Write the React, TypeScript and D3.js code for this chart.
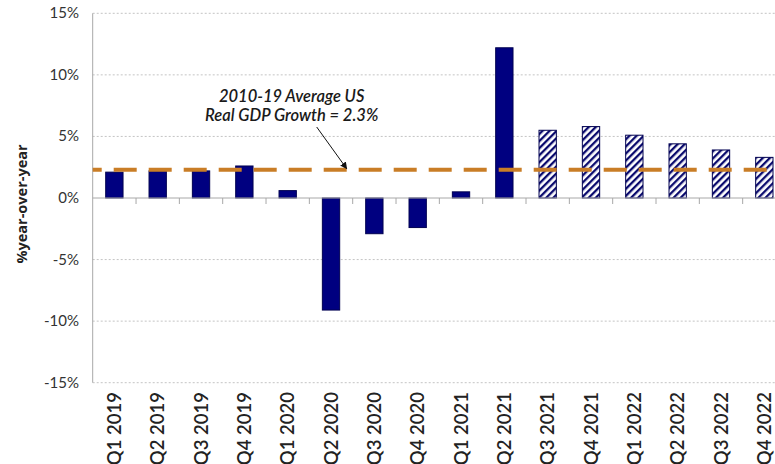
import React, { useRef, useEffect } from "react";
import * as d3 from "d3";

const quarters = [
  "Q1 2019", "Q2 2019", "Q3 2019", "Q4 2019",
  "Q1 2020", "Q2 2020", "Q3 2020", "Q4 2020",
  "Q1 2021", "Q2 2021", "Q3 2021", "Q4 2021",
  "Q1 2022", "Q2 2022", "Q3 2022", "Q4 2022",
];
const growth = [2.1, 2.2, 2.2, 2.6, 0.6, -9.1, -2.9, -2.4, 0.5, 12.2, 5.5, 5.8, 5.1, 4.4, 3.9, 3.3];
// true = forecast (hatched)
const forecast = [false, false, false, false, false, false, false, false, false, false, true, true, true, true, true, true];
const yTicks = [-15, -10, -5, 0, 5, 10, 15];
const avgGrowth = 2.3;
const annotationLines = ["2010-19 Average US", "Real GDP Growth = 2.3%"];

const App: React.FC = () => {
  const ref = useRef<SVGSVGElement | null>(null);
  const width = 775;
  const height = 464;

  useEffect(() => {
    const svg = d3.select(ref.current);
    svg.selectAll("*").remove();

    const left = 92.7;
    const right = 786;
    const top = 13.3;
    const bottom = 382.7;

    const x = d3
      .scaleBand<string>()
      .domain(quarters)
      .range([left, right])
      .paddingInner(0.6)
      .paddingOuter(0.3);
    const y = d3.scaleLinear().domain([-15, 15]).range([bottom, top]);

    // hatch pattern for forecast bars
    const defs = svg.append("defs");
    const pat = defs
      .append("pattern")
      .attr("id", "hatch")
      .attr("patternUnits", "userSpaceOnUse")
      .attr("width", 5)
      .attr("height", 5)
      .attr("patternTransform", "rotate(45)");
    pat.append("rect").attr("width", 5).attr("height", 5).attr("fill", "#fff");
    pat
      .append("rect")
      .attr("x", 0)
      .attr("width", 2.3)
      .attr("height", 5)
      .attr("fill", "#0a0a6e");

    defs
      .append("marker")
      .attr("id", "arrow")
      .attr("viewBox", "0 0 10 10")
      .attr("refX", 9)
      .attr("refY", 5)
      .attr("markerWidth", 7)
      .attr("markerHeight", 7)
      .attr("markerUnits", "userSpaceOnUse")
      .attr("orient", "auto")
      .append("path")
      .attr("d", "M0,0 L10,5 L0,10 z")
      .attr("fill", "#111");

    // gridlines
    svg
      .append("g")
      .selectAll("line")
      .data(yTicks.filter((t) => t !== 0))
      .enter()
      .append("line")
      .attr("x1", left)
      .attr("x2", right)
      .attr("y1", (d) => y(d))
      .attr("y2", (d) => y(d))
      .attr("stroke", "#c4c4c4")
      .attr("stroke-width", 1)
      .attr("stroke-dasharray", "2 2");

    // y tick labels
    svg
      .append("g")
      .selectAll("text")
      .data(yTicks)
      .enter()
      .append("text")
      .attr("x", 79)
      .attr("y", (d) => y(d) + 5)
      .attr("text-anchor", "end")
      .attr("fill", "#333")
      .style("font-family", "Lato, 'Open Sans', sans-serif")
      .style("font-size", "15px")
      .text((d) => `${d}%`);

    // y axis title
    svg
      .append("text")
      .attr("transform", `translate(27,204) rotate(-90)`)
      .attr("text-anchor", "middle")
      .attr("fill", "#222")
      .style("font-family", "'Open Sans', Lato, sans-serif")
      .style("font-weight", "bold")
      .style("font-size", "14.5px")
      .text("%year-over-year");

    // bars
    svg
      .append("g")
      .selectAll("rect")
      .data(quarters)
      .enter()
      .append("rect")
      .attr("x", (d) => x(d) as number)
      .attr("width", x.bandwidth())
      .attr("y", (d, i) => y(Math.max(0, growth[i])))
      .attr("height", (d, i) => Math.abs(y(growth[i]) - y(0)))
      .attr("fill", (d, i) => (forecast[i] ? "url(#hatch)" : "#000080"))
      .attr("stroke", "#000050")
      .attr("stroke-width", 1);

    // left axis + zero line
    svg
      .append("line")
      .attr("x1", left)
      .attr("x2", left)
      .attr("y1", top)
      .attr("y2", bottom)
      .attr("stroke", "#a8a8a8");
    svg
      .append("line")
      .attr("x1", left)
      .attr("x2", right)
      .attr("y1", y(0))
      .attr("y2", y(0))
      .attr("stroke", "#a8a8a8");

    // category ticks at zero line
    const step = x.step();
    svg
      .append("g")
      .selectAll("line")
      .data(quarters.slice(1))
      .enter()
      .append("line")
      .attr("x1", (d) => (x(d) as number) + x.bandwidth() / 2 - step / 2)
      .attr("x2", (d) => (x(d) as number) + x.bandwidth() / 2 - step / 2)
      .attr("y1", y(0))
      .attr("y2", y(0) + 6)
      .attr("stroke", "#a8a8a8");

    // average line
    svg
      .append("line")
      .attr("x1", left)
      .attr("x2", right)
      .attr("y1", y(avgGrowth))
      .attr("y2", y(avgGrowth))
      .attr("stroke", "#c97d26")
      .attr("stroke-width", 4)
      .attr("stroke-dasharray", "23 12")
      .attr("stroke-dashoffset", 14);

    // x labels
    svg
      .append("g")
      .selectAll("text")
      .data(quarters)
      .enter()
      .append("text")
      .attr(
        "transform",
        (d) => `translate(${(x(d) as number) + x.bandwidth() / 2 + 6.5},392) rotate(-90)`,
      )
      .attr("text-anchor", "end")
      .attr("fill", "#222")
      .style("font-family", "Lato, 'Open Sans', sans-serif")
      .style("font-weight", "600")
      .style("font-size", "18.5px")
      .text((d) => d);

    // annotation
    const annX = (x("Q1 2020") as number) + x.bandwidth() / 2 + 4;
    svg
      .append("g")
      .selectAll("text")
      .data(annotationLines)
      .enter()
      .append("text")
      .attr("x", annX)
      .attr("y", (d, i) => 102 + i * 18.5)
      .attr("text-anchor", "middle")
      .attr("fill", "#1a1a1a")
      .style("font-family", "Lato, 'Open Sans', sans-serif")
      .style("font-style", "italic")
      .style("font-weight", "600")
      .style("font-size", "16.5px")
      .text((d) => d);

    const tipX = (x("Q3 2020") as number) + x.bandwidth() / 2 - step / 2 - 6;
    svg
      .append("line")
      .attr("x1", annX + 25)
      .attr("y1", 127)
      .attr("x2", tipX)
      .attr("y2", y(avgGrowth) - 1)
      .attr("stroke", "#111")
      .attr("stroke-width", 1)
      .attr("marker-end", "url(#arrow)");
  }, []);

  return (
    <div style={{ position: "absolute", left: 0, top: 0 }}>
      <svg ref={ref} width={width} height={height} style={{ display: "block", background: "#fff" }} />
    </div>
  );
};

export default App;
